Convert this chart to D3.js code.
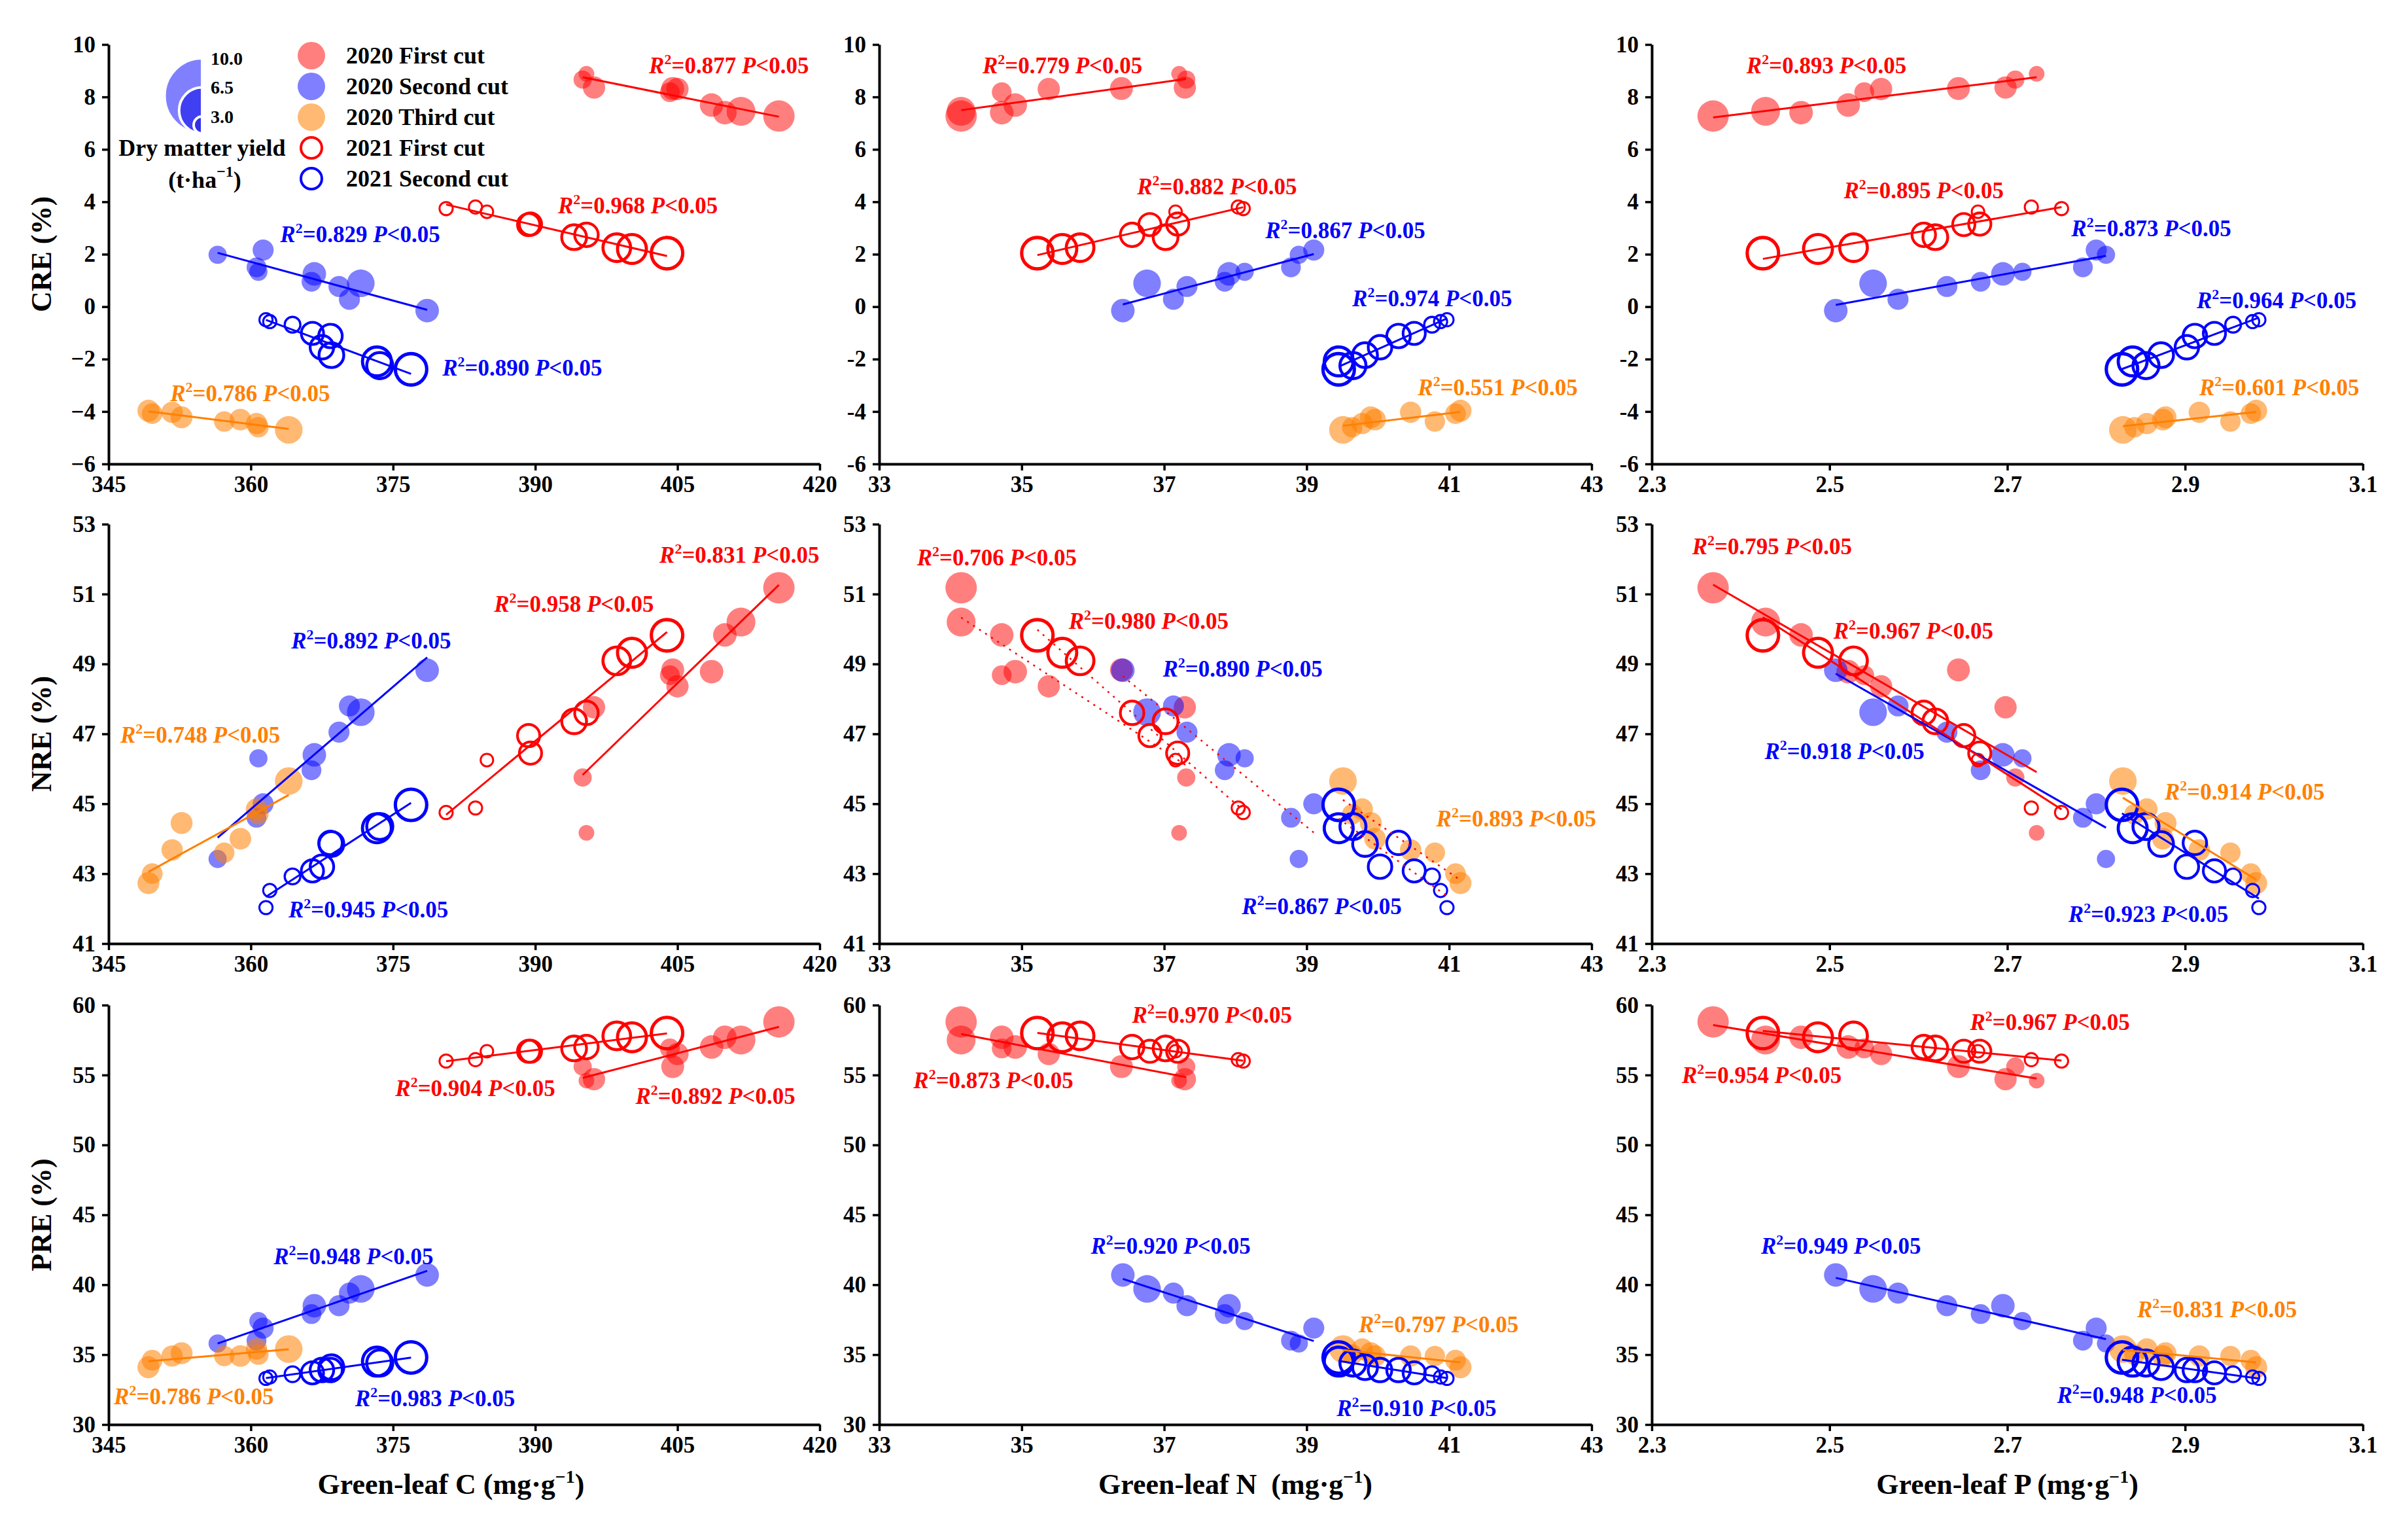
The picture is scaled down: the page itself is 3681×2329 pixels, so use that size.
<!DOCTYPE html>
<html><head><meta charset="utf-8">
<script src="https://cdn.jsdelivr.net/npm/d3@7"></script>
<style>html,body{margin:0;padding:0;background:#fff;}svg{display:block;}</style>
</head><body>
<svg id="chart" width="3681" height="2329"></svg>
<script>
// ---------------- DATA ----------------
const seriesNames = ["2020 First cut","2020 Second cut","2020 Third cut","2021 First cut","2021 Second cut"];

// Green-leaf C (mg·g-1), one list per series
const greenLeafC = [
  [415.7,411.7,410.0,408.6,404.2,405.0,404.5,396.2,395.0,395.4],
  [378.6,370.4,369.3,371.6,366.4,366.7,360.8,360.6,356.5,361.3],
  [364.0,360.8,360.6,357.2,358.9,352.7,349.6,351.7,349.2],
  [403.9,400.2,398.6,394.1,395.4,389.3,389.5,384.9,383.7,380.6],
  [376.9,373.3,373.6,368.5,368.4,367.5,366.5,364.4,362.0,361.6]
];
// Green-leaf N (mg·g-1)
const greenLeafN = [
  [34.15,34.15,34.72,34.91,34.72,35.38,36.40,37.29,37.31,37.21],
  [36.42,37.13,37.32,36.76,37.85,37.91,38.13,38.78,38.89,39.10],
  [39.51,39.64,39.78,40.80,39.96,39.90,41.09,40.46,41.16],
  [35.22,35.57,35.82,37.02,36.55,36.80,37.19,37.16,38.04,38.11],
  [39.45,39.45,39.65,39.82,40.29,40.03,40.51,40.76,40.88,40.97]
];
// Green-leaf P (mg·g-1)
const greenLeafP = [
  [2.369,2.428,2.468,2.521,2.539,2.558,2.645,2.698,2.709,2.733],
  [2.507,2.577,2.632,2.549,2.670,2.695,2.717,2.785,2.811,2.800],
  [2.830,2.843,2.857,2.951,2.875,2.878,2.974,2.916,2.980],
  [2.425,2.487,2.527,2.619,2.606,2.651,2.669,2.667,2.727,2.761],
  [2.829,2.841,2.856,2.873,2.911,2.902,2.933,2.954,2.976,2.983]
];
// CRE (%)
const creValues = [
  [7.27,7.45,7.40,7.69,8.18,8.30,8.32,8.36,8.66,8.88],
  [-0.15,0.28,0.77,0.89,0.95,1.25,1.33,1.50,1.98,2.16],
  [-4.70,-4.60,-4.46,-4.38,-4.31,-4.22,-4.08,-4.03,-3.97],
  [2.04,2.20,2.25,2.65,2.74,3.13,3.15,3.62,3.80,3.74],
  [-2.39,-2.09,-2.25,-1.85,-1.12,-1.55,-1.02,-0.69,-0.57,-0.50]
];
// NRE (%)
const nreValues = [
  [51.18,50.20,49.83,48.78,48.68,48.36,48.83,47.76,45.75,44.17],
  [48.82,47.80,47.05,47.62,45.96,46.40,46.30,44.60,43.42,45.00],
  [45.65,44.70,44.85,43.60,44.00,44.45,43.00,43.68,42.73],
  [49.82,49.32,49.09,47.36,47.60,46.95,46.45,46.25,44.88,44.75],
  [44.97,44.30,44.35,43.85,43.88,43.20,43.08,42.92,42.52,42.03]
];
// PRE (%)
const preValues = [
  [58.8,57.5,57.7,57.0,56.9,56.5,55.6,54.7,55.6,54.6],
  [40.7,39.4,38.5,39.7,37.9,38.5,37.4,36.0,35.8,36.9],
  [35.4,35.0,35.4,34.9,34.9,35.1,34.6,34.9,34.1],
  [58.0,57.7,57.8,56.9,57.0,56.7,56.7,56.7,56.1,56.0],
  [34.8,34.5,34.4,34.1,33.9,33.9,33.7,33.6,33.4,33.3]
];
// Dry matter yield (t·ha-1)
const dryMatterYield = [
  [10,9.2,7.5,7.5,6.3,7.1,7.3,7.1,5.8,5.0],
  [7.5,6.7,6.7,8.8,6.3,7.5,5.8,6.3,5.8,6.7],
  [8.8,6.5,6.8,6.5,6.9,7.0,6.6,6.8,7.0],
  [10,9.2,8.8,7.9,7.5,7.1,7.1,4.0,4.2,4.2],
  [10,9.2,8.3,7.9,7.5,7.5,7.1,5.0,4.2,4.2]
];
// R² per panel (row-major: CRE-C, CRE-N, CRE-P, NRE-C, NRE-N, NRE-P, PRE-C, PRE-N, PRE-P), per series
const r2Values = [
  ["0.877","0.829","0.786","0.968","0.890"],
  ["0.779","0.867","0.551","0.882","0.974"],
  ["0.893","0.873","0.601","0.895","0.964"],
  ["0.831","0.892","0.748","0.958","0.945"],
  ["0.706","0.890","0.893","0.980","0.867"],
  ["0.795","0.918","0.914","0.967","0.923"],
  ["0.892","0.948","0.786","0.904","0.983"],
  ["0.873","0.920","0.797","0.970","0.910"],
  ["0.954","0.949","0.831","0.967","0.948"]
];
const pLabel = "<0.05";
const xTicksC = [345,360,375,390,405,420];
const xTicksN = [33,35,37,39,41,43];
const xTicksP = [2.3,2.5,2.7,2.9,3.1];
const yTicksCRE = [-6,-4,-2,0,2,4,6,8,10];
const yTicksNRE = [41,43,45,47,49,51,53];
const yTicksPRE = [30,35,40,45,50,55,60];
const rowTitles = ["CRE (%)","NRE (%)","PRE (%)"];
const colTitles = ["Green-leaf C","Green-leaf N\u00a0","Green-leaf P"];
const sizeLegendValues = [10.0, 6.5, 3.0];

// ---------------- LAYOUT ----------------
const colX = [166, 1344, 2525], colW = [1087, 1089, 1087];
const rowY = [68, 801, 1536], rowH = 641;
const xDomains = [[345,420],[33,43],[2.3,3.1]];
const yDomains = [[-6,10],[41,53],[30,60]];
const xTickSets = [xTicksC, xTicksN, xTicksP];
const yTickSets = [yTicksCRE, yTicksNRE, yTicksPRE];
const xVars = [greenLeafC, greenLeafN, greenLeafP];
const yVars = [creValues, nreValues, preValues];
// R² label anchors (data units of each panel), per series
const labelPos = [
  [[402.0,8.9],[363.1,2.47],[351.5,-3.6],[392.4,3.56],[380.2,-2.64]],
  [[34.45,8.9],[38.42,2.61],[40.56,-3.39],[36.62,4.29],[39.64,0.01]],
  [[2.4066,8.9],[2.772,2.69],[2.916,-3.39],[2.516,4.14],[2.913,-0.06]],
  [[403.1,51.9],[364.26,49.45],[346.24,46.75],[385.65,50.5],[363.97,41.75]],
  [[33.53,51.82],[36.98,48.64],[40.82,44.36],[35.66,50.0],[38.09,41.85]],
  [[2.3454,52.14],[2.4269,46.27],[2.877,45.12],[2.5044,49.73],[2.7687,41.61]],
  [[400.57,52.95],[362.4,41.46],[345.56,31.46],[375.24,53.5],[371.0,31.29]],
  [[33.48,54.04],[35.97,42.21],[39.73,36.58],[36.55,58.76],[39.42,30.62]],
  [[2.3338,54.44],[2.4229,42.21],[2.846,37.67],[2.658,58.21],[2.7559,31.54]]
];
const seriesColor = ["#ff0000","#0000ff","#ff8000","#ff0000","#0000ff"];
const seriesFilled = [true,true,true,false,false];
const seriesOpacity = [0.5,0.5,0.55,1,1];
const FONT = "'Liberation Serif','Times New Roman',serif";

const svg = d3.select("#chart");
svg.append("rect").attr("width",3681).attr("height",2329).attr("fill","#fff");
const rScale = d3.scaleLinear().domain([0,10]).range([0,24]);

function fit(xs, ys){
  const n = xs.length, mx = d3.mean(xs), my = d3.mean(ys);
  let sxy=0, sxx=0;
  for(let i=0;i<n;i++){ sxy += (xs[i]-mx)*(ys[i]-my); sxx += (xs[i]-mx)**2; }
  const b = sxy/sxx; return {b, a: my - b*mx};
}

function r2Text(g, x, y, val, color){
  const t = g.append("text").attr("x",x).attr("y",y).attr("fill",color)
    .attr("font-family",FONT).attr("font-weight","bold").attr("font-size",35);
  t.append("tspan").attr("font-style","italic").text("R");
  t.append("tspan").attr("font-size",22).attr("dy",-14).text("2");
  t.append("tspan").attr("dy",14).text("=" + val + " ");
  t.append("tspan").attr("font-style","italic").text("P");
  t.append("tspan").text(pLabel);
}

for(let r=0;r<3;r++){
  for(let c=0;c<3;c++){
    const pi = r*3+c;
    const g = svg.append("g").attr("transform",`translate(${colX[c]},${rowY[r]})`);
    const x = d3.scaleLinear().domain(xDomains[c]).range([0,colW[c]]);
    const y = d3.scaleLinear().domain(yDomains[r]).range([rowH,0]);

    // points
    for(let s=0;s<5;s++){
      const pts = xVars[c][s].map((xv,i)=>({x:xv, y:yVars[r][s][i], yld:dryMatterYield[s][i]}));
      const sel = g.append("g").selectAll("circle").data(pts).join("circle")
        .attr("cx",d=>x(d.x)).attr("cy",d=>y(d.y)).attr("r",d=>rScale(d.yld));
      if(seriesFilled[s]) sel.attr("fill",seriesColor[s]).attr("fill-opacity",seriesOpacity[s]).attr("stroke","none");
      else sel.attr("fill","none").attr("stroke",seriesColor[s]).attr("stroke-width",d=>1.5+rScale(d.yld)*0.15);
    }
    // regression lines
    const dotted = (r===1 && c===1);
    for(let s=0;s<5;s++){
      const xs = xVars[c][s], ys = yVars[r][s];
      const {a,b} = fit(xs,ys);
      const x0 = d3.min(xs), x1 = d3.max(xs);
      const ln = g.append("line").attr("x1",x(x0)).attr("y1",y(a+b*x0)).attr("x2",x(x1)).attr("y2",y(a+b*x1))
        .attr("stroke", dotted ? "#ff0000" : seriesColor[s]).attr("stroke-width", dotted ? 2.5 : 3);
      if(dotted) ln.attr("stroke-dasharray","3,8");
    }
    // axes
    const isMinus = (c===0);
    const yAxis = d3.axisLeft(y).tickValues(yTickSets[r]).tickSize(10).tickSizeOuter(0).tickPadding(10)
      .tickFormat(v => isMinus ? d3.format("d")(v) : String(v));
    const xAxis = d3.axisBottom(x).tickValues(xTickSets[c]).tickSize(10).tickSizeOuter(0).tickPadding(8)
      .tickFormat(v => c===2 ? d3.format(".1f")(v) : String(v));
    const ya = g.append("g").call(yAxis);
    const xa = g.append("g").attr("transform",`translate(0,${rowH})`).call(xAxis);
    [ya,xa].forEach(ax=>{
      ax.attr("font-family",FONT).attr("font-size",35).attr("font-weight","bold");
      ax.select(".domain").attr("stroke","#000").attr("stroke-width",4);
      ax.selectAll(".tick line").attr("stroke","#000").attr("stroke-width",3.5);
      ax.selectAll(".tick text").attr("fill","#000");
    });
    // R² labels
    for(let s=0;s<5;s++){
      const [lx,ly] = labelPos[pi][s];
      r2Text(g, x(lx), y(ly), r2Values[pi][s], seriesColor[s]);
    }
    // row titles
    if(c===0){
      g.append("text").attr("transform",`translate(${-88},${rowH/2}) rotate(-90)`)
        .attr("text-anchor","middle").attr("font-family",FONT).attr("font-weight","bold")
        .attr("font-size",44).text(rowTitles[r]);
    }
    // column titles
    if(r===2){
      const t = g.append("text").attr("x",colW[c]/2 - (c===0?20:0)).attr("y",rowH+106)
        .attr("text-anchor","middle").attr("font-family",FONT).attr("font-weight","bold").attr("font-size",44);
      t.append("tspan").text(colTitles[c] + " (mg·g");
      t.append("tspan").attr("font-size",28).attr("dy",-17).text("−1");
      t.append("tspan").attr("dy",17).text(")");
    }
  }
}

// ---------------- LEGEND ----------------
const lg = svg.append("g");
const legX = 476, legTextX = 529, legY0 = 85, legDy = 47;
seriesNames.forEach((name,s)=>{
  const cy = legY0 + s*legDy;
  const c = lg.append("circle").attr("cx",legX).attr("cy",cy);
  if(seriesFilled[s]) c.attr("r",21).attr("fill",seriesColor[s]).attr("fill-opacity",seriesOpacity[s]);
  else c.attr("r",16).attr("fill","none").attr("stroke",seriesColor[s]).attr("stroke-width",4);
  lg.append("text").attr("x",legTextX).attr("y",cy).attr("dominant-baseline","central")
    .attr("font-family",FONT).attr("font-weight","bold").attr("font-size",36).text(name);
});
// size legend (left half-discs, bottom aligned)
const legR = d3.scaleLinear().domain([3,10]).range([13,57.5]);
const sizeRight = 309, sizeBottom = 204;
const sizeFill = ["#8080ff","#4040f2","#3030e8"];
sizeLegendValues.forEach((v,i)=>{
  const rr = legR(v), cy = sizeBottom - rr;
  lg.append("path")
    .attr("d",`M${sizeRight},${cy-rr} A${rr},${rr} 0 0 0 ${sizeRight},${cy+rr} Z`)
    .attr("fill",sizeFill[i]).attr("stroke","#fff").attr("stroke-width",4);
  lg.append("text").attr("x",sizeRight+13).attr("y",sizeBottom-2*rr).attr("dominant-baseline","central")
    .attr("font-family",FONT).attr("font-weight","bold").attr("font-size",28).text(v.toFixed(1));
});
lg.append("text").attr("x",309).attr("y",226).attr("dominant-baseline","central").attr("text-anchor","middle")
  .attr("font-family",FONT).attr("font-weight","bold").attr("font-size",36).text("Dry matter yield");
const ut = lg.append("text").attr("x",313).attr("y",275).attr("dominant-baseline","central").attr("text-anchor","middle")
  .attr("font-family",FONT).attr("font-weight","bold").attr("font-size",36);
ut.append("tspan").text("(t·ha");
ut.append("tspan").attr("font-size",24).attr("dy",-13).text("−1");
ut.append("tspan").attr("dy",13).text(")");
</script>
</body></html>
